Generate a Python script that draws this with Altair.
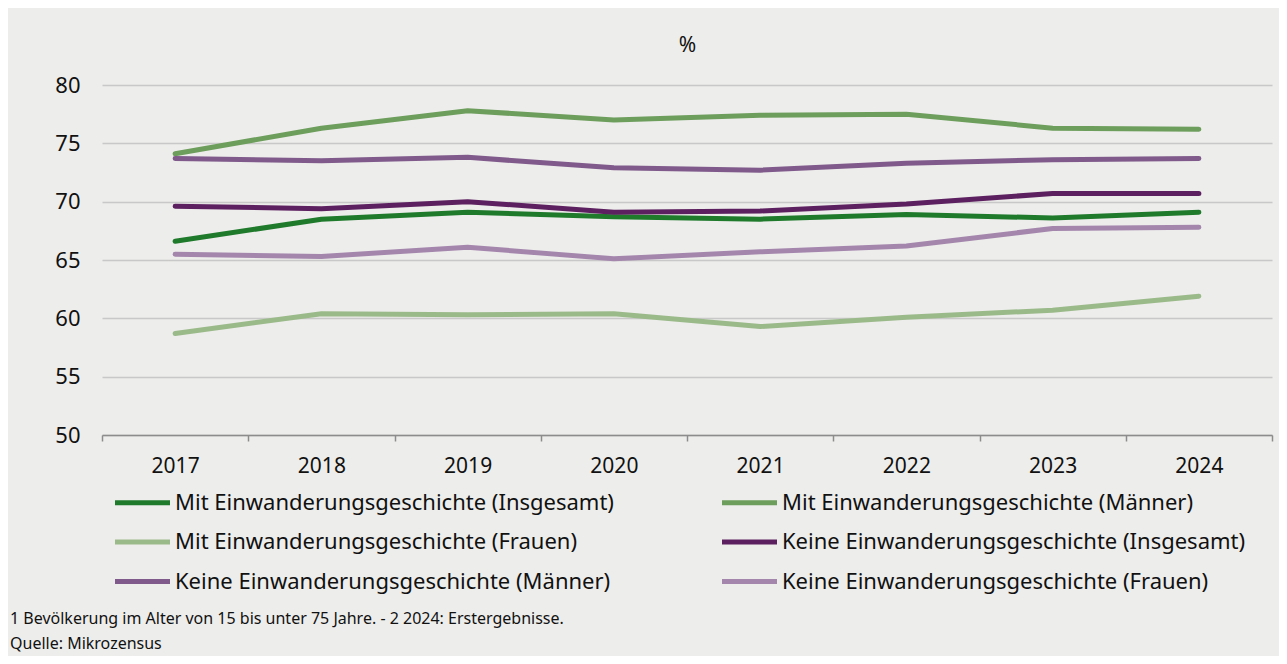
import altair as alt
import pandas as pd

years = ["2017", "2018", "2019", "2020", "2021", "2022", "2023", "2024"]

series_names = [
    "Mit Einwanderungsgeschichte (Insgesamt)",
    "Mit Einwanderungsgeschichte (Männer)",
    "Mit Einwanderungsgeschichte (Frauen)",
    "Keine Einwanderungsgeschichte (Insgesamt)",
    "Keine Einwanderungsgeschichte (Männer)",
    "Keine Einwanderungsgeschichte (Frauen)",
]

mit_insgesamt = [66.6, 68.5, 69.1, 68.7, 68.5, 68.9, 68.6, 69.1]
mit_maenner = [74.1, 76.3, 77.8, 77.0, 77.4, 77.5, 76.3, 76.2]
mit_frauen = [58.7, 60.4, 60.3, 60.4, 59.3, 60.1, 60.7, 61.9]
keine_insgesamt = [69.6, 69.4, 70.0, 69.1, 69.2, 69.8, 70.7, 70.7]
keine_maenner = [73.7, 73.5, 73.8, 72.9, 72.7, 73.3, 73.6, 73.7]
keine_frauen = [65.5, 65.3, 66.1, 65.1, 65.7, 66.2, 67.7, 67.8]

colors = ["#1f7a2c", "#6d9e5c", "#9bba8a", "#5c1f5f", "#7f5a8b", "#a486ad"]

y_ticks = [50, 55, 60, 65, 70, 75, 80]

footnotes = [
    "1 Bevölkerung im Alter von 15 bis unter 75 Jahre. - 2 2024: Erstergebnisse.",
    "Quelle: Mikrozensus",
]

all_values = [mit_insgesamt, mit_maenner, mit_frauen,
              keine_insgesamt, keine_maenner, keine_frauen]
rows = []
for name, vals in zip(series_names, all_values):
    for y, v in zip(years, vals):
        rows.append({"Jahr": y, "Wert": v, "Reihe": name})
df = pd.DataFrame(rows)

# legend fills column by column: reorder so that reading row by row
# gives the original series order
legend_order = [0, 2, 4, 1, 3, 5]
domain = [series_names[i] for i in legend_order]
rng = [colors[i] for i in legend_order]

FONT = "Noto Sans"

chart = alt.Chart(df).mark_line(
    strokeWidth=5, strokeCap="round", strokeJoin="round"
).encode(
    x=alt.X(
        "Jahr:N", sort=years, bandPosition=0.5,
        scale=alt.Scale(type="band", paddingInner=0, paddingOuter=0),
        axis=alt.Axis(
            title=None, labelAngle=0, grid=False, tickBand="extent",
            tickSize=6, tickColor="#8c8c8c", domainColor="#8c8c8c",
            domainWidth=1.5, tickWidth=1.5,
            labelFontSize=21, labelColor="#111111", labelPadding=14,
        ),
    ),
    y=alt.Y(
        "Wert:Q",
        scale=alt.Scale(domain=[50, 80], nice=False, zero=False),
        axis=alt.Axis(
            values=y_ticks, title="%", titleAngle=0, titleX=585, titleY=-40,
            titleAlign="center", titleBaseline="middle", titleFontSize=21,
            titleFontWeight="normal", titleColor="#111111",
            domain=False, ticks=False, labelPadding=22, labelFontSize=22,
            labelColor="#111111", gridColor="#c8c8c8", gridWidth=1.5,
        ),
    ),
    color=alt.Color(
        "Reihe:N",
        scale=alt.Scale(domain=domain, range=rng),
        legend=alt.Legend(
            title=None, orient="none", legendX=28, legendY=405, columns=2,
            symbolType="M-2.75,0H2.75", symbolSize=400, symbolStrokeWidth=5,
            labelFontSize=22, labelColor="#111111", labelOffset=20,
            labelLimit=700, columnPadding=98, rowPadding=15.5,
        ),
    ),
    order=alt.Order("Jahr:N"),
).properties(
    width=1170,
    height=350,
    autosize=alt.AutoSizeParams(type="none"),
    padding={"left": 94, "top": 77, "right": 7, "bottom": 221},
    title=alt.TitleParams(
        text=footnotes, orient="bottom", anchor="start", frame="group",
        fontSize=16, fontWeight="normal", color="#111111",
        lineHeight=25, dx=-92, offset=18,
    ),
).configure(
    background="#ededeb",
    font=FONT,
).configure_view(stroke=None)

chart.save("out.html", embed_options={"renderer": "svg", "actions": False})
